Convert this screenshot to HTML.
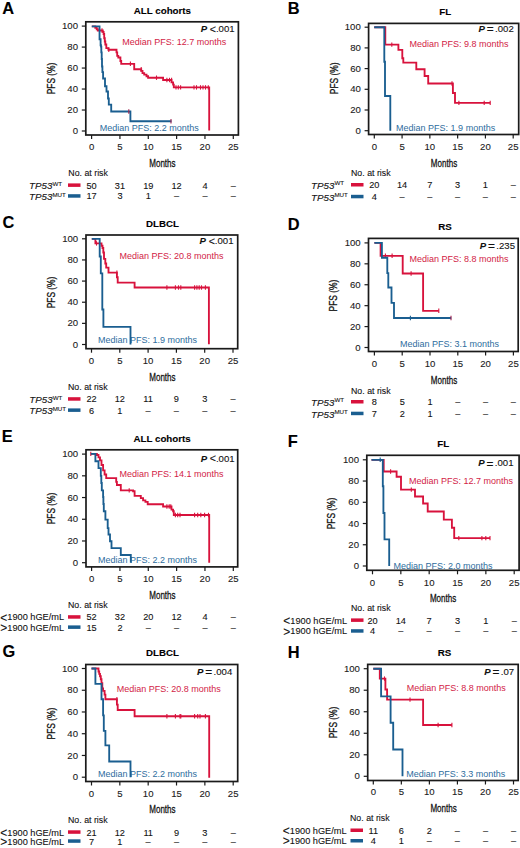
<!DOCTYPE html>
<html><head><meta charset="utf-8"><style>
html,body{margin:0;padding:0;background:#fff;}
svg{display:block;}
text{font-family:"Liberation Sans", sans-serif;}

</style></head><body>
<svg width="520" height="848" viewBox="0 0 520 848">
<rect x="0" y="0" width="520" height="848" fill="#fff"/>
<text x="2.30" y="14.40" font-size="16.4" text-anchor="start" font-weight="bold" font-style="normal" fill="#000" stroke="#000" stroke-width="0.1" >A</text>
<text x="162.40" y="13.80" font-size="9.75" text-anchor="middle" font-weight="bold" font-style="normal" fill="#000" stroke="#000" stroke-width="0.1" >ALL cohorts</text>
<rect x="85.80" y="21.80" width="152.60" height="113.20" fill="none" stroke="#1a1a1a" stroke-width="1.7"/>
<line x1="81.80" y1="131.00" x2="85.80" y2="131.00" stroke="#1a1a1a" stroke-width="1.2"/>
<text x="78.00" y="134.10" font-size="9.6" text-anchor="end" font-weight="normal" font-style="normal" fill="#1a1a1a" stroke="#1a1a1a" stroke-width="0.1" >0</text>
<line x1="81.80" y1="110.02" x2="85.80" y2="110.02" stroke="#1a1a1a" stroke-width="1.2"/>
<text x="78.00" y="113.12" font-size="9.6" text-anchor="end" font-weight="normal" font-style="normal" fill="#1a1a1a" stroke="#1a1a1a" stroke-width="0.1" >20</text>
<line x1="81.80" y1="89.04" x2="85.80" y2="89.04" stroke="#1a1a1a" stroke-width="1.2"/>
<text x="78.00" y="92.14" font-size="9.6" text-anchor="end" font-weight="normal" font-style="normal" fill="#1a1a1a" stroke="#1a1a1a" stroke-width="0.1" >40</text>
<line x1="81.80" y1="68.06" x2="85.80" y2="68.06" stroke="#1a1a1a" stroke-width="1.2"/>
<text x="78.00" y="71.16" font-size="9.6" text-anchor="end" font-weight="normal" font-style="normal" fill="#1a1a1a" stroke="#1a1a1a" stroke-width="0.1" >60</text>
<line x1="81.80" y1="47.08" x2="85.80" y2="47.08" stroke="#1a1a1a" stroke-width="1.2"/>
<text x="78.00" y="50.18" font-size="9.6" text-anchor="end" font-weight="normal" font-style="normal" fill="#1a1a1a" stroke="#1a1a1a" stroke-width="0.1" >80</text>
<line x1="81.80" y1="26.10" x2="85.80" y2="26.10" stroke="#1a1a1a" stroke-width="1.2"/>
<text x="78.00" y="29.20" font-size="9.6" text-anchor="end" font-weight="normal" font-style="normal" fill="#1a1a1a" stroke="#1a1a1a" stroke-width="0.1" >100</text>
<line x1="91.60" y1="135.00" x2="91.60" y2="139.00" stroke="#1a1a1a" stroke-width="1.2"/>
<text x="91.60" y="150.30" font-size="9.6" text-anchor="middle" font-weight="normal" font-style="normal" fill="#1a1a1a" stroke="#1a1a1a" stroke-width="0.1" >0</text>
<line x1="119.94" y1="135.00" x2="119.94" y2="139.00" stroke="#1a1a1a" stroke-width="1.2"/>
<text x="119.94" y="150.30" font-size="9.6" text-anchor="middle" font-weight="normal" font-style="normal" fill="#1a1a1a" stroke="#1a1a1a" stroke-width="0.1" >5</text>
<line x1="148.28" y1="135.00" x2="148.28" y2="139.00" stroke="#1a1a1a" stroke-width="1.2"/>
<text x="148.28" y="150.30" font-size="9.6" text-anchor="middle" font-weight="normal" font-style="normal" fill="#1a1a1a" stroke="#1a1a1a" stroke-width="0.1" >10</text>
<line x1="176.62" y1="135.00" x2="176.62" y2="139.00" stroke="#1a1a1a" stroke-width="1.2"/>
<text x="176.62" y="150.30" font-size="9.6" text-anchor="middle" font-weight="normal" font-style="normal" fill="#1a1a1a" stroke="#1a1a1a" stroke-width="0.1" >15</text>
<line x1="204.96" y1="135.00" x2="204.96" y2="139.00" stroke="#1a1a1a" stroke-width="1.2"/>
<text x="204.96" y="150.30" font-size="9.6" text-anchor="middle" font-weight="normal" font-style="normal" fill="#1a1a1a" stroke="#1a1a1a" stroke-width="0.1" >20</text>
<line x1="233.30" y1="135.00" x2="233.30" y2="139.00" stroke="#1a1a1a" stroke-width="1.2"/>
<text x="233.30" y="150.30" font-size="9.6" text-anchor="middle" font-weight="normal" font-style="normal" fill="#1a1a1a" stroke="#1a1a1a" stroke-width="0.1" >25</text>
<text transform="translate(54.70,78.50) rotate(-90) scale(0.73,1)" x="0" y="0" font-size="11.5" text-anchor="middle" fill="#111" stroke="#111" stroke-width="0.3">PFS (%)</text>
<text transform="translate(162.40,167.10) scale(0.70,1)" x="0" y="0" font-size="11.5" text-anchor="middle" fill="#111" stroke="#111" stroke-width="0.3">Months</text>
<text x="234.60" y="32.30" font-size="9.6" text-anchor="end" fill="#111" stroke="#111" stroke-width="0.1"><tspan font-weight="bold" font-style="italic">P</tspan> <tspan font-size="10.6" dy="0.3">&lt;</tspan><tspan dy="-0.3">.001</tspan></text>
<text x="122.30" y="44.80" font-size="9" text-anchor="start" font-weight="normal" font-style="normal" fill="#d21c46" stroke="#d21c46" stroke-width="0.1" style="stroke-width:0">Median PFS: 12.7 months</text>
<text x="99.80" y="131.00" font-size="9" text-anchor="start" font-weight="normal" font-style="normal" fill="#2e6d9e" stroke="#2e6d9e" stroke-width="0.1" style="stroke-width:0">Median PFS: 2.2 months</text>
<polyline points="91.80,26.30 95.30,26.30 95.30,27.80 96.70,27.80 96.70,29.20 97.80,29.20 97.80,30.50 102.80,30.50 102.80,31.80 103.60,31.80 103.60,34.00 104.20,34.00 104.20,38.20 104.80,38.20 104.80,41.50 105.30,41.50 105.30,44.50 106.30,44.50 106.30,48.10 108.40,48.10 108.40,49.70 116.50,49.70 116.50,52.30 117.20,52.30 117.20,55.80 118.30,55.80 118.30,57.50 120.40,57.50 120.40,61.00 121.20,61.00 121.20,63.80 134.20,63.80 134.20,69.20 141.20,69.20 141.20,70.80 142.50,70.80 142.50,73.10 144.20,73.10 144.20,74.60 146.50,74.60 146.50,76.20 148.10,76.20 148.10,77.70 163.10,77.70 163.10,80.00 171.50,80.00 171.50,82.30 173.10,82.30 173.10,84.60 173.80,84.60 173.80,87.40 209.20,87.40 209.20,130.50" fill="none" stroke="#d8123c" stroke-width="1.85" stroke-linejoin="miter" stroke-linecap="butt"/>
<line x1="102.00" y1="28.30" x2="102.00" y2="32.70" stroke="#d8123c" stroke-width="1.1"/>
<line x1="108.80" y1="47.50" x2="108.80" y2="51.90" stroke="#d8123c" stroke-width="1.1"/>
<line x1="130.40" y1="61.60" x2="130.40" y2="66.00" stroke="#d8123c" stroke-width="1.1"/>
<line x1="141.20" y1="67.00" x2="141.20" y2="71.40" stroke="#d8123c" stroke-width="1.1"/>
<line x1="156.50" y1="75.50" x2="156.50" y2="79.90" stroke="#d8123c" stroke-width="1.1"/>
<line x1="166.90" y1="77.80" x2="166.90" y2="82.20" stroke="#d8123c" stroke-width="1.1"/>
<line x1="169.50" y1="77.80" x2="169.50" y2="82.20" stroke="#d8123c" stroke-width="1.1"/>
<line x1="171.60" y1="77.80" x2="171.60" y2="82.20" stroke="#d8123c" stroke-width="1.1"/>
<line x1="176.00" y1="85.20" x2="176.00" y2="89.60" stroke="#d8123c" stroke-width="1.1"/>
<line x1="178.30" y1="85.20" x2="178.30" y2="89.60" stroke="#d8123c" stroke-width="1.1"/>
<line x1="180.60" y1="85.20" x2="180.60" y2="89.60" stroke="#d8123c" stroke-width="1.1"/>
<line x1="194.00" y1="85.20" x2="194.00" y2="89.60" stroke="#d8123c" stroke-width="1.1"/>
<line x1="196.50" y1="85.20" x2="196.50" y2="89.60" stroke="#d8123c" stroke-width="1.1"/>
<line x1="200.50" y1="85.20" x2="200.50" y2="89.60" stroke="#d8123c" stroke-width="1.1"/>
<line x1="203.00" y1="85.20" x2="203.00" y2="89.60" stroke="#d8123c" stroke-width="1.1"/>
<line x1="205.50" y1="85.20" x2="205.50" y2="89.60" stroke="#d8123c" stroke-width="1.1"/>
<line x1="208.30" y1="85.20" x2="208.30" y2="89.60" stroke="#d8123c" stroke-width="1.1"/>
<polyline points="91.80,26.30 99.55,26.30 99.55,39.20 100.60,39.20 100.60,45.20 101.00,45.20 101.00,46.60 101.30,46.60 101.30,52.30 101.70,52.30 101.70,59.00 102.00,59.00 102.00,66.50 102.40,66.50 102.40,72.10 103.10,72.10 103.10,78.50 105.00,78.50 105.00,86.20 106.50,86.20 106.50,91.50 108.00,91.50 108.00,98.50 108.80,98.50 108.80,104.60 111.20,104.60 111.20,111.50 130.40,111.50 130.40,121.20 171.50,121.20" fill="none" stroke="#1a5e90" stroke-width="1.85" stroke-linejoin="miter" stroke-linecap="butt"/>
<line x1="128.80" y1="109.30" x2="128.80" y2="113.70" stroke="#a02450" stroke-width="1.1"/>
<line x1="171.00" y1="119.00" x2="171.00" y2="123.40" stroke="#a02450" stroke-width="1.1"/>
<text x="68.30" y="175.50" font-size="8.8" text-anchor="start" font-weight="normal" font-style="normal" fill="#111" stroke="#111" stroke-width="0.1" >No. at risk</text>
<rect x="68.00" y="183.40" width="12.5" height="3.5" fill="#d8123c"/>
<rect x="68.00" y="194.20" width="12.5" height="3.5" fill="#1a5e90"/>
<text x="29.00" y="189.40" font-size="9.8" fill="#111" stroke="#111" stroke-width="0.1"><tspan font-style="italic">TP53</tspan><tspan font-size="6.2" dy="-3.7">WT</tspan></text>
<text x="29.00" y="200.20" font-size="9.8" fill="#111" stroke="#111" stroke-width="0.1"><tspan font-style="italic">TP53</tspan><tspan font-size="6.2" dy="-3.7">MUT</tspan></text>
<text x="91.60" y="188.60" font-size="9.2" text-anchor="middle" font-weight="normal" font-style="normal" fill="#111" stroke="#111" stroke-width="0.1" >50</text>
<text x="91.60" y="199.40" font-size="9.2" text-anchor="middle" font-weight="normal" font-style="normal" fill="#111" stroke="#111" stroke-width="0.1" >17</text>
<text x="119.94" y="188.60" font-size="9.2" text-anchor="middle" font-weight="normal" font-style="normal" fill="#111" stroke="#111" stroke-width="0.1" >31</text>
<text x="119.94" y="199.40" font-size="9.2" text-anchor="middle" font-weight="normal" font-style="normal" fill="#111" stroke="#111" stroke-width="0.1" >3</text>
<text x="148.28" y="188.60" font-size="9.2" text-anchor="middle" font-weight="normal" font-style="normal" fill="#111" stroke="#111" stroke-width="0.1" >19</text>
<text x="148.28" y="199.40" font-size="9.2" text-anchor="middle" font-weight="normal" font-style="normal" fill="#111" stroke="#111" stroke-width="0.1" >1</text>
<text x="176.62" y="188.60" font-size="9.2" text-anchor="middle" font-weight="normal" font-style="normal" fill="#111" stroke="#111" stroke-width="0.1" >12</text>
<text x="176.62" y="199.40" font-size="9.2" text-anchor="middle" font-weight="normal" font-style="normal" fill="#111" stroke="#111" stroke-width="0.1" >&#8211;</text>
<text x="204.96" y="188.60" font-size="9.2" text-anchor="middle" font-weight="normal" font-style="normal" fill="#111" stroke="#111" stroke-width="0.1" >4</text>
<text x="204.96" y="199.40" font-size="9.2" text-anchor="middle" font-weight="normal" font-style="normal" fill="#111" stroke="#111" stroke-width="0.1" >&#8211;</text>
<text x="233.30" y="188.60" font-size="9.2" text-anchor="middle" font-weight="normal" font-style="normal" fill="#111" stroke="#111" stroke-width="0.1" >&#8211;</text>
<text x="233.30" y="199.40" font-size="9.2" text-anchor="middle" font-weight="normal" font-style="normal" fill="#111" stroke="#111" stroke-width="0.1" >&#8211;</text>
<text x="287.70" y="14.40" font-size="16.4" text-anchor="start" font-weight="bold" font-style="normal" fill="#000" stroke="#000" stroke-width="0.1" >B</text>
<text x="445.20" y="15.40" font-size="9.75" text-anchor="middle" font-weight="bold" font-style="normal" fill="#000" stroke="#000" stroke-width="0.1" >FL</text>
<rect x="368.60" y="23.40" width="150.10" height="111.10" fill="none" stroke="#1a1a1a" stroke-width="1.7"/>
<line x1="364.60" y1="130.70" x2="368.60" y2="130.70" stroke="#1a1a1a" stroke-width="1.2"/>
<text x="360.80" y="133.80" font-size="9.6" text-anchor="end" font-weight="normal" font-style="normal" fill="#1a1a1a" stroke="#1a1a1a" stroke-width="0.1" >0</text>
<line x1="364.60" y1="110.00" x2="368.60" y2="110.00" stroke="#1a1a1a" stroke-width="1.2"/>
<text x="360.80" y="113.10" font-size="9.6" text-anchor="end" font-weight="normal" font-style="normal" fill="#1a1a1a" stroke="#1a1a1a" stroke-width="0.1" >20</text>
<line x1="364.60" y1="89.30" x2="368.60" y2="89.30" stroke="#1a1a1a" stroke-width="1.2"/>
<text x="360.80" y="92.40" font-size="9.6" text-anchor="end" font-weight="normal" font-style="normal" fill="#1a1a1a" stroke="#1a1a1a" stroke-width="0.1" >40</text>
<line x1="364.60" y1="68.60" x2="368.60" y2="68.60" stroke="#1a1a1a" stroke-width="1.2"/>
<text x="360.80" y="71.70" font-size="9.6" text-anchor="end" font-weight="normal" font-style="normal" fill="#1a1a1a" stroke="#1a1a1a" stroke-width="0.1" >60</text>
<line x1="364.60" y1="47.90" x2="368.60" y2="47.90" stroke="#1a1a1a" stroke-width="1.2"/>
<text x="360.80" y="51.00" font-size="9.6" text-anchor="end" font-weight="normal" font-style="normal" fill="#1a1a1a" stroke="#1a1a1a" stroke-width="0.1" >80</text>
<line x1="364.60" y1="27.20" x2="368.60" y2="27.20" stroke="#1a1a1a" stroke-width="1.2"/>
<text x="360.80" y="30.30" font-size="9.6" text-anchor="end" font-weight="normal" font-style="normal" fill="#1a1a1a" stroke="#1a1a1a" stroke-width="0.1" >100</text>
<line x1="374.30" y1="134.50" x2="374.30" y2="138.50" stroke="#1a1a1a" stroke-width="1.2"/>
<text x="374.30" y="149.80" font-size="9.6" text-anchor="middle" font-weight="normal" font-style="normal" fill="#1a1a1a" stroke="#1a1a1a" stroke-width="0.1" >0</text>
<line x1="402.08" y1="134.50" x2="402.08" y2="138.50" stroke="#1a1a1a" stroke-width="1.2"/>
<text x="402.08" y="149.80" font-size="9.6" text-anchor="middle" font-weight="normal" font-style="normal" fill="#1a1a1a" stroke="#1a1a1a" stroke-width="0.1" >5</text>
<line x1="429.86" y1="134.50" x2="429.86" y2="138.50" stroke="#1a1a1a" stroke-width="1.2"/>
<text x="429.86" y="149.80" font-size="9.6" text-anchor="middle" font-weight="normal" font-style="normal" fill="#1a1a1a" stroke="#1a1a1a" stroke-width="0.1" >10</text>
<line x1="457.64" y1="134.50" x2="457.64" y2="138.50" stroke="#1a1a1a" stroke-width="1.2"/>
<text x="457.64" y="149.80" font-size="9.6" text-anchor="middle" font-weight="normal" font-style="normal" fill="#1a1a1a" stroke="#1a1a1a" stroke-width="0.1" >15</text>
<line x1="485.42" y1="134.50" x2="485.42" y2="138.50" stroke="#1a1a1a" stroke-width="1.2"/>
<text x="485.42" y="149.80" font-size="9.6" text-anchor="middle" font-weight="normal" font-style="normal" fill="#1a1a1a" stroke="#1a1a1a" stroke-width="0.1" >20</text>
<line x1="513.20" y1="134.50" x2="513.20" y2="138.50" stroke="#1a1a1a" stroke-width="1.2"/>
<text x="513.20" y="149.80" font-size="9.6" text-anchor="middle" font-weight="normal" font-style="normal" fill="#1a1a1a" stroke="#1a1a1a" stroke-width="0.1" >25</text>
<text transform="translate(337.70,78.30) rotate(-90) scale(0.73,1)" x="0" y="0" font-size="11.5" text-anchor="middle" fill="#111" stroke="#111" stroke-width="0.3">PFS (%)</text>
<text transform="translate(444.00,167.30) scale(0.70,1)" x="0" y="0" font-size="11.5" text-anchor="middle" fill="#111" stroke="#111" stroke-width="0.3">Months</text>
<text x="513.80" y="31.60" font-size="9.6" text-anchor="end" fill="#111" stroke="#111" stroke-width="0.1"><tspan font-weight="bold" font-style="italic">P</tspan> <tspan font-size="11.8" dy="1.1" dx="-0.8">=</tspan><tspan dy="-1.1" dx="1.5">.002</tspan></text>
<text x="409.50" y="47.40" font-size="9" text-anchor="start" font-weight="normal" font-style="normal" fill="#d21c46" stroke="#d21c46" stroke-width="0.1" style="stroke-width:0">Median PFS: 9.8 months</text>
<text x="396.10" y="130.90" font-size="9" text-anchor="start" font-weight="normal" font-style="normal" fill="#2e6d9e" stroke="#2e6d9e" stroke-width="0.1" style="stroke-width:0">Median PFS: 1.9 months</text>
<polyline points="374.20,27.20 385.30,27.20 385.30,44.60 398.40,44.60 398.40,49.80 402.30,49.80 402.30,58.20 403.30,58.20 403.30,62.60 416.30,62.60 416.30,69.20 424.60,69.20 424.60,76.00 428.20,76.00 428.20,83.50 452.90,83.50 452.90,93.00 455.00,93.00 455.00,102.90 490.20,102.90" fill="none" stroke="#d8123c" stroke-width="1.85" stroke-linejoin="miter" stroke-linecap="butt"/>
<line x1="391.80" y1="42.40" x2="391.80" y2="46.80" stroke="#d8123c" stroke-width="1.1"/>
<line x1="452.00" y1="81.30" x2="452.00" y2="85.70" stroke="#d8123c" stroke-width="1.1"/>
<line x1="458.90" y1="100.70" x2="458.90" y2="105.10" stroke="#d8123c" stroke-width="1.1"/>
<line x1="484.20" y1="100.70" x2="484.20" y2="105.10" stroke="#d8123c" stroke-width="1.1"/>
<line x1="490.20" y1="100.70" x2="490.20" y2="105.10" stroke="#d8123c" stroke-width="1.1"/>
<polyline points="374.20,27.20 384.30,27.20 384.30,61.70 385.00,61.70 385.00,96.00 390.30,96.00 390.30,130.70" fill="none" stroke="#1a5e90" stroke-width="1.85" stroke-linejoin="miter" stroke-linecap="butt"/>
<text x="351.00" y="176.00" font-size="8.8" text-anchor="start" font-weight="normal" font-style="normal" fill="#111" stroke="#111" stroke-width="0.1" >No. at risk</text>
<rect x="351.00" y="183.00" width="12.5" height="3.5" fill="#d8123c"/>
<rect x="351.00" y="194.80" width="12.5" height="3.5" fill="#1a5e90"/>
<text x="311.00" y="189.00" font-size="9.8" fill="#111" stroke="#111" stroke-width="0.1"><tspan font-style="italic">TP53</tspan><tspan font-size="6.2" dy="-3.7">WT</tspan></text>
<text x="311.00" y="200.80" font-size="9.8" fill="#111" stroke="#111" stroke-width="0.1"><tspan font-style="italic">TP53</tspan><tspan font-size="6.2" dy="-3.7">MUT</tspan></text>
<text x="374.30" y="188.20" font-size="9.2" text-anchor="middle" font-weight="normal" font-style="normal" fill="#111" stroke="#111" stroke-width="0.1" >20</text>
<text x="374.30" y="200.00" font-size="9.2" text-anchor="middle" font-weight="normal" font-style="normal" fill="#111" stroke="#111" stroke-width="0.1" >4</text>
<text x="402.08" y="188.20" font-size="9.2" text-anchor="middle" font-weight="normal" font-style="normal" fill="#111" stroke="#111" stroke-width="0.1" >14</text>
<text x="402.08" y="200.00" font-size="9.2" text-anchor="middle" font-weight="normal" font-style="normal" fill="#111" stroke="#111" stroke-width="0.1" >&#8211;</text>
<text x="429.86" y="188.20" font-size="9.2" text-anchor="middle" font-weight="normal" font-style="normal" fill="#111" stroke="#111" stroke-width="0.1" >7</text>
<text x="429.86" y="200.00" font-size="9.2" text-anchor="middle" font-weight="normal" font-style="normal" fill="#111" stroke="#111" stroke-width="0.1" >&#8211;</text>
<text x="457.64" y="188.20" font-size="9.2" text-anchor="middle" font-weight="normal" font-style="normal" fill="#111" stroke="#111" stroke-width="0.1" >3</text>
<text x="457.64" y="200.00" font-size="9.2" text-anchor="middle" font-weight="normal" font-style="normal" fill="#111" stroke="#111" stroke-width="0.1" >&#8211;</text>
<text x="485.42" y="188.20" font-size="9.2" text-anchor="middle" font-weight="normal" font-style="normal" fill="#111" stroke="#111" stroke-width="0.1" >1</text>
<text x="485.42" y="200.00" font-size="9.2" text-anchor="middle" font-weight="normal" font-style="normal" fill="#111" stroke="#111" stroke-width="0.1" >&#8211;</text>
<text x="513.20" y="188.20" font-size="9.2" text-anchor="middle" font-weight="normal" font-style="normal" fill="#111" stroke="#111" stroke-width="0.1" >&#8211;</text>
<text x="513.20" y="200.00" font-size="9.2" text-anchor="middle" font-weight="normal" font-style="normal" fill="#111" stroke="#111" stroke-width="0.1" >&#8211;</text>
<text x="2.60" y="228.30" font-size="16.4" text-anchor="start" font-weight="bold" font-style="normal" fill="#000" stroke="#000" stroke-width="0.1" >C</text>
<text x="162.50" y="227.00" font-size="9.75" text-anchor="middle" font-weight="bold" font-style="normal" fill="#000" stroke="#000" stroke-width="0.1" >DLBCL</text>
<rect x="86.00" y="235.00" width="151.70" height="113.70" fill="none" stroke="#1a1a1a" stroke-width="1.7"/>
<line x1="82.00" y1="344.50" x2="86.00" y2="344.50" stroke="#1a1a1a" stroke-width="1.2"/>
<text x="78.20" y="347.60" font-size="9.6" text-anchor="end" font-weight="normal" font-style="normal" fill="#1a1a1a" stroke="#1a1a1a" stroke-width="0.1" >0</text>
<line x1="82.00" y1="323.36" x2="86.00" y2="323.36" stroke="#1a1a1a" stroke-width="1.2"/>
<text x="78.20" y="326.46" font-size="9.6" text-anchor="end" font-weight="normal" font-style="normal" fill="#1a1a1a" stroke="#1a1a1a" stroke-width="0.1" >20</text>
<line x1="82.00" y1="302.22" x2="86.00" y2="302.22" stroke="#1a1a1a" stroke-width="1.2"/>
<text x="78.20" y="305.32" font-size="9.6" text-anchor="end" font-weight="normal" font-style="normal" fill="#1a1a1a" stroke="#1a1a1a" stroke-width="0.1" >40</text>
<line x1="82.00" y1="281.08" x2="86.00" y2="281.08" stroke="#1a1a1a" stroke-width="1.2"/>
<text x="78.20" y="284.18" font-size="9.6" text-anchor="end" font-weight="normal" font-style="normal" fill="#1a1a1a" stroke="#1a1a1a" stroke-width="0.1" >60</text>
<line x1="82.00" y1="259.94" x2="86.00" y2="259.94" stroke="#1a1a1a" stroke-width="1.2"/>
<text x="78.20" y="263.04" font-size="9.6" text-anchor="end" font-weight="normal" font-style="normal" fill="#1a1a1a" stroke="#1a1a1a" stroke-width="0.1" >80</text>
<line x1="82.00" y1="238.80" x2="86.00" y2="238.80" stroke="#1a1a1a" stroke-width="1.2"/>
<text x="78.20" y="241.90" font-size="9.6" text-anchor="end" font-weight="normal" font-style="normal" fill="#1a1a1a" stroke="#1a1a1a" stroke-width="0.1" >100</text>
<line x1="91.50" y1="348.70" x2="91.50" y2="352.70" stroke="#1a1a1a" stroke-width="1.2"/>
<text x="91.50" y="364.00" font-size="9.6" text-anchor="middle" font-weight="normal" font-style="normal" fill="#1a1a1a" stroke="#1a1a1a" stroke-width="0.1" >0</text>
<line x1="119.80" y1="348.70" x2="119.80" y2="352.70" stroke="#1a1a1a" stroke-width="1.2"/>
<text x="119.80" y="364.00" font-size="9.6" text-anchor="middle" font-weight="normal" font-style="normal" fill="#1a1a1a" stroke="#1a1a1a" stroke-width="0.1" >5</text>
<line x1="148.10" y1="348.70" x2="148.10" y2="352.70" stroke="#1a1a1a" stroke-width="1.2"/>
<text x="148.10" y="364.00" font-size="9.6" text-anchor="middle" font-weight="normal" font-style="normal" fill="#1a1a1a" stroke="#1a1a1a" stroke-width="0.1" >10</text>
<line x1="176.40" y1="348.70" x2="176.40" y2="352.70" stroke="#1a1a1a" stroke-width="1.2"/>
<text x="176.40" y="364.00" font-size="9.6" text-anchor="middle" font-weight="normal" font-style="normal" fill="#1a1a1a" stroke="#1a1a1a" stroke-width="0.1" >15</text>
<line x1="204.70" y1="348.70" x2="204.70" y2="352.70" stroke="#1a1a1a" stroke-width="1.2"/>
<text x="204.70" y="364.00" font-size="9.6" text-anchor="middle" font-weight="normal" font-style="normal" fill="#1a1a1a" stroke="#1a1a1a" stroke-width="0.1" >20</text>
<line x1="233.00" y1="348.70" x2="233.00" y2="352.70" stroke="#1a1a1a" stroke-width="1.2"/>
<text x="233.00" y="364.00" font-size="9.6" text-anchor="middle" font-weight="normal" font-style="normal" fill="#1a1a1a" stroke="#1a1a1a" stroke-width="0.1" >25</text>
<text transform="translate(54.70,292.50) rotate(-90) scale(0.73,1)" x="0" y="0" font-size="11.5" text-anchor="middle" fill="#111" stroke="#111" stroke-width="0.3">PFS (%)</text>
<text transform="translate(162.40,380.80) scale(0.70,1)" x="0" y="0" font-size="11.5" text-anchor="middle" fill="#111" stroke="#111" stroke-width="0.3">Months</text>
<text x="233.50" y="244.40" font-size="9.6" text-anchor="end" fill="#111" stroke="#111" stroke-width="0.1"><tspan font-weight="bold" font-style="italic">P</tspan> <tspan font-size="10.6" dy="0.3">&lt;</tspan><tspan dy="-0.3">.001</tspan></text>
<text x="119.50" y="258.60" font-size="9" text-anchor="start" font-weight="normal" font-style="normal" fill="#d21c46" stroke="#d21c46" stroke-width="0.1" style="stroke-width:0">Median PFS: 20.8 months</text>
<text x="98.00" y="343.40" font-size="9" text-anchor="start" font-weight="normal" font-style="normal" fill="#2e6d9e" stroke="#2e6d9e" stroke-width="0.1" style="stroke-width:0">Median PFS: 1.9 months</text>
<polyline points="91.80,238.80 95.40,238.80 95.40,243.40 101.50,243.40 101.50,245.70 102.50,245.70 102.50,248.00 103.30,248.00 103.30,252.50 104.00,252.50 104.00,258.80 105.30,258.80 105.30,263.50 106.20,263.50 106.20,267.60 108.50,267.60 108.50,272.60 116.90,272.60 116.90,277.20 117.70,277.20 117.70,282.60 134.60,282.60 134.60,287.50 208.90,287.50 208.90,344.20" fill="none" stroke="#d8123c" stroke-width="1.85" stroke-linejoin="miter" stroke-linecap="butt"/>
<line x1="96.50" y1="241.20" x2="96.50" y2="245.60" stroke="#d8123c" stroke-width="1.1"/>
<line x1="116.90" y1="270.40" x2="116.90" y2="274.80" stroke="#d8123c" stroke-width="1.1"/>
<line x1="166.90" y1="285.30" x2="166.90" y2="289.70" stroke="#d8123c" stroke-width="1.1"/>
<line x1="175.40" y1="285.30" x2="175.40" y2="289.70" stroke="#d8123c" stroke-width="1.1"/>
<line x1="178.50" y1="285.30" x2="178.50" y2="289.70" stroke="#d8123c" stroke-width="1.1"/>
<line x1="180.80" y1="285.30" x2="180.80" y2="289.70" stroke="#d8123c" stroke-width="1.1"/>
<line x1="194.60" y1="285.30" x2="194.60" y2="289.70" stroke="#d8123c" stroke-width="1.1"/>
<line x1="196.90" y1="285.30" x2="196.90" y2="289.70" stroke="#d8123c" stroke-width="1.1"/>
<line x1="199.20" y1="285.30" x2="199.20" y2="289.70" stroke="#d8123c" stroke-width="1.1"/>
<line x1="201.50" y1="285.30" x2="201.50" y2="289.70" stroke="#d8123c" stroke-width="1.1"/>
<line x1="205.40" y1="285.30" x2="205.40" y2="289.70" stroke="#d8123c" stroke-width="1.1"/>
<polyline points="91.80,238.80 99.70,238.80 99.70,256.50 100.80,256.50 100.80,273.40 102.30,273.40 102.30,309.50 103.40,309.50 103.40,326.90 130.50,326.90 130.50,344.50" fill="none" stroke="#1a5e90" stroke-width="1.85" stroke-linejoin="miter" stroke-linecap="butt"/>
<text x="68.00" y="390.00" font-size="8.8" text-anchor="start" font-weight="normal" font-style="normal" fill="#111" stroke="#111" stroke-width="0.1" >No. at risk</text>
<rect x="68.00" y="397.20" width="12.5" height="3.5" fill="#d8123c"/>
<rect x="68.00" y="408.40" width="12.5" height="3.5" fill="#1a5e90"/>
<text x="29.30" y="403.20" font-size="9.8" fill="#111" stroke="#111" stroke-width="0.1"><tspan font-style="italic">TP53</tspan><tspan font-size="6.2" dy="-3.7">WT</tspan></text>
<text x="29.30" y="414.40" font-size="9.8" fill="#111" stroke="#111" stroke-width="0.1"><tspan font-style="italic">TP53</tspan><tspan font-size="6.2" dy="-3.7">MUT</tspan></text>
<text x="91.50" y="402.40" font-size="9.2" text-anchor="middle" font-weight="normal" font-style="normal" fill="#111" stroke="#111" stroke-width="0.1" >22</text>
<text x="91.50" y="413.60" font-size="9.2" text-anchor="middle" font-weight="normal" font-style="normal" fill="#111" stroke="#111" stroke-width="0.1" >6</text>
<text x="119.80" y="402.40" font-size="9.2" text-anchor="middle" font-weight="normal" font-style="normal" fill="#111" stroke="#111" stroke-width="0.1" >12</text>
<text x="119.80" y="413.60" font-size="9.2" text-anchor="middle" font-weight="normal" font-style="normal" fill="#111" stroke="#111" stroke-width="0.1" >1</text>
<text x="148.10" y="402.40" font-size="9.2" text-anchor="middle" font-weight="normal" font-style="normal" fill="#111" stroke="#111" stroke-width="0.1" >11</text>
<text x="148.10" y="413.60" font-size="9.2" text-anchor="middle" font-weight="normal" font-style="normal" fill="#111" stroke="#111" stroke-width="0.1" >&#8211;</text>
<text x="176.40" y="402.40" font-size="9.2" text-anchor="middle" font-weight="normal" font-style="normal" fill="#111" stroke="#111" stroke-width="0.1" >9</text>
<text x="176.40" y="413.60" font-size="9.2" text-anchor="middle" font-weight="normal" font-style="normal" fill="#111" stroke="#111" stroke-width="0.1" >&#8211;</text>
<text x="204.70" y="402.40" font-size="9.2" text-anchor="middle" font-weight="normal" font-style="normal" fill="#111" stroke="#111" stroke-width="0.1" >3</text>
<text x="204.70" y="413.60" font-size="9.2" text-anchor="middle" font-weight="normal" font-style="normal" fill="#111" stroke="#111" stroke-width="0.1" >&#8211;</text>
<text x="233.00" y="402.40" font-size="9.2" text-anchor="middle" font-weight="normal" font-style="normal" fill="#111" stroke="#111" stroke-width="0.1" >&#8211;</text>
<text x="233.00" y="413.60" font-size="9.2" text-anchor="middle" font-weight="normal" font-style="normal" fill="#111" stroke="#111" stroke-width="0.1" >&#8211;</text>
<text x="287.70" y="230.00" font-size="16.4" text-anchor="start" font-weight="bold" font-style="normal" fill="#000" stroke="#000" stroke-width="0.1" >D</text>
<text x="445.00" y="230.30" font-size="9.75" text-anchor="middle" font-weight="bold" font-style="normal" fill="#000" stroke="#000" stroke-width="0.1" >RS</text>
<rect x="368.50" y="238.40" width="149.70" height="113.10" fill="none" stroke="#1a1a1a" stroke-width="1.7"/>
<line x1="364.50" y1="347.50" x2="368.50" y2="347.50" stroke="#1a1a1a" stroke-width="1.2"/>
<text x="360.70" y="350.60" font-size="9.6" text-anchor="end" font-weight="normal" font-style="normal" fill="#1a1a1a" stroke="#1a1a1a" stroke-width="0.1" >0</text>
<line x1="364.50" y1="326.58" x2="368.50" y2="326.58" stroke="#1a1a1a" stroke-width="1.2"/>
<text x="360.70" y="329.68" font-size="9.6" text-anchor="end" font-weight="normal" font-style="normal" fill="#1a1a1a" stroke="#1a1a1a" stroke-width="0.1" >20</text>
<line x1="364.50" y1="305.66" x2="368.50" y2="305.66" stroke="#1a1a1a" stroke-width="1.2"/>
<text x="360.70" y="308.76" font-size="9.6" text-anchor="end" font-weight="normal" font-style="normal" fill="#1a1a1a" stroke="#1a1a1a" stroke-width="0.1" >40</text>
<line x1="364.50" y1="284.74" x2="368.50" y2="284.74" stroke="#1a1a1a" stroke-width="1.2"/>
<text x="360.70" y="287.84" font-size="9.6" text-anchor="end" font-weight="normal" font-style="normal" fill="#1a1a1a" stroke="#1a1a1a" stroke-width="0.1" >60</text>
<line x1="364.50" y1="263.82" x2="368.50" y2="263.82" stroke="#1a1a1a" stroke-width="1.2"/>
<text x="360.70" y="266.92" font-size="9.6" text-anchor="end" font-weight="normal" font-style="normal" fill="#1a1a1a" stroke="#1a1a1a" stroke-width="0.1" >80</text>
<line x1="364.50" y1="242.90" x2="368.50" y2="242.90" stroke="#1a1a1a" stroke-width="1.2"/>
<text x="360.70" y="246.00" font-size="9.6" text-anchor="end" font-weight="normal" font-style="normal" fill="#1a1a1a" stroke="#1a1a1a" stroke-width="0.1" >100</text>
<line x1="374.40" y1="351.50" x2="374.40" y2="355.50" stroke="#1a1a1a" stroke-width="1.2"/>
<text x="374.40" y="366.80" font-size="9.6" text-anchor="middle" font-weight="normal" font-style="normal" fill="#1a1a1a" stroke="#1a1a1a" stroke-width="0.1" >0</text>
<line x1="402.20" y1="351.50" x2="402.20" y2="355.50" stroke="#1a1a1a" stroke-width="1.2"/>
<text x="402.20" y="366.80" font-size="9.6" text-anchor="middle" font-weight="normal" font-style="normal" fill="#1a1a1a" stroke="#1a1a1a" stroke-width="0.1" >5</text>
<line x1="430.00" y1="351.50" x2="430.00" y2="355.50" stroke="#1a1a1a" stroke-width="1.2"/>
<text x="430.00" y="366.80" font-size="9.6" text-anchor="middle" font-weight="normal" font-style="normal" fill="#1a1a1a" stroke="#1a1a1a" stroke-width="0.1" >10</text>
<line x1="457.80" y1="351.50" x2="457.80" y2="355.50" stroke="#1a1a1a" stroke-width="1.2"/>
<text x="457.80" y="366.80" font-size="9.6" text-anchor="middle" font-weight="normal" font-style="normal" fill="#1a1a1a" stroke="#1a1a1a" stroke-width="0.1" >15</text>
<line x1="485.60" y1="351.50" x2="485.60" y2="355.50" stroke="#1a1a1a" stroke-width="1.2"/>
<text x="485.60" y="366.80" font-size="9.6" text-anchor="middle" font-weight="normal" font-style="normal" fill="#1a1a1a" stroke="#1a1a1a" stroke-width="0.1" >20</text>
<line x1="513.40" y1="351.50" x2="513.40" y2="355.50" stroke="#1a1a1a" stroke-width="1.2"/>
<text x="513.40" y="366.80" font-size="9.6" text-anchor="middle" font-weight="normal" font-style="normal" fill="#1a1a1a" stroke="#1a1a1a" stroke-width="0.1" >25</text>
<text transform="translate(337.20,295.60) rotate(-90) scale(0.73,1)" x="0" y="0" font-size="11.5" text-anchor="middle" fill="#111" stroke="#111" stroke-width="0.3">PFS (%)</text>
<text transform="translate(444.00,383.70) scale(0.70,1)" x="0" y="0" font-size="11.5" text-anchor="middle" fill="#111" stroke="#111" stroke-width="0.3">Months</text>
<text x="515.00" y="248.60" font-size="9.6" text-anchor="end" fill="#111" stroke="#111" stroke-width="0.1"><tspan font-weight="bold" font-style="italic">P</tspan> <tspan font-size="11.8" dy="1.1" dx="-0.8">=</tspan><tspan dy="-1.1" dx="1.5">.235</tspan></text>
<text x="409.50" y="261.90" font-size="9" text-anchor="start" font-weight="normal" font-style="normal" fill="#d21c46" stroke="#d21c46" stroke-width="0.1" style="stroke-width:0">Median PFS: 8.8 months</text>
<text x="400.00" y="346.60" font-size="9" text-anchor="start" font-weight="normal" font-style="normal" fill="#2e6d9e" stroke="#2e6d9e" stroke-width="0.1" style="stroke-width:0">Median PFS: 3.1 months</text>
<polyline points="374.40,242.90 380.60,242.90 380.60,255.80 402.70,255.80 402.70,273.50 423.10,273.50 423.10,310.80 438.80,310.80" fill="none" stroke="#d8123c" stroke-width="1.85" stroke-linejoin="miter" stroke-linecap="butt"/>
<line x1="385.40" y1="253.60" x2="385.40" y2="258.00" stroke="#d8123c" stroke-width="1.1"/>
<line x1="392.10" y1="253.60" x2="392.10" y2="258.00" stroke="#d8123c" stroke-width="1.1"/>
<line x1="411.10" y1="271.30" x2="411.10" y2="275.70" stroke="#d8123c" stroke-width="1.1"/>
<line x1="438.80" y1="308.60" x2="438.80" y2="313.00" stroke="#d8123c" stroke-width="1.1"/>
<polyline points="374.40,242.90 381.90,242.90 381.90,257.70 387.30,257.70 387.30,273.10 388.30,273.10 388.30,287.50 391.50,287.50 391.50,302.90 394.00,302.90 394.00,318.00 451.20,318.00" fill="none" stroke="#1a5e90" stroke-width="1.85" stroke-linejoin="miter" stroke-linecap="butt"/>
<line x1="410.40" y1="315.80" x2="410.40" y2="320.20" stroke="#1a5e90" stroke-width="1.1"/>
<line x1="451.00" y1="315.80" x2="451.00" y2="320.20" stroke="#a02450" stroke-width="1.1"/>
<text x="351.00" y="394.00" font-size="8.8" text-anchor="start" font-weight="normal" font-style="normal" fill="#111" stroke="#111" stroke-width="0.1" >No. at risk</text>
<rect x="351.00" y="400.00" width="12.5" height="3.5" fill="#d8123c"/>
<rect x="351.00" y="411.70" width="12.5" height="3.5" fill="#1a5e90"/>
<text x="311.00" y="406.00" font-size="9.8" fill="#111" stroke="#111" stroke-width="0.1"><tspan font-style="italic">TP53</tspan><tspan font-size="6.2" dy="-3.7">WT</tspan></text>
<text x="311.00" y="417.70" font-size="9.8" fill="#111" stroke="#111" stroke-width="0.1"><tspan font-style="italic">TP53</tspan><tspan font-size="6.2" dy="-3.7">MUT</tspan></text>
<text x="374.40" y="405.20" font-size="9.2" text-anchor="middle" font-weight="normal" font-style="normal" fill="#111" stroke="#111" stroke-width="0.1" >8</text>
<text x="374.40" y="416.90" font-size="9.2" text-anchor="middle" font-weight="normal" font-style="normal" fill="#111" stroke="#111" stroke-width="0.1" >7</text>
<text x="402.20" y="405.20" font-size="9.2" text-anchor="middle" font-weight="normal" font-style="normal" fill="#111" stroke="#111" stroke-width="0.1" >5</text>
<text x="402.20" y="416.90" font-size="9.2" text-anchor="middle" font-weight="normal" font-style="normal" fill="#111" stroke="#111" stroke-width="0.1" >2</text>
<text x="430.00" y="405.20" font-size="9.2" text-anchor="middle" font-weight="normal" font-style="normal" fill="#111" stroke="#111" stroke-width="0.1" >1</text>
<text x="430.00" y="416.90" font-size="9.2" text-anchor="middle" font-weight="normal" font-style="normal" fill="#111" stroke="#111" stroke-width="0.1" >1</text>
<text x="457.80" y="405.20" font-size="9.2" text-anchor="middle" font-weight="normal" font-style="normal" fill="#111" stroke="#111" stroke-width="0.1" >&#8211;</text>
<text x="457.80" y="416.90" font-size="9.2" text-anchor="middle" font-weight="normal" font-style="normal" fill="#111" stroke="#111" stroke-width="0.1" >&#8211;</text>
<text x="485.60" y="405.20" font-size="9.2" text-anchor="middle" font-weight="normal" font-style="normal" fill="#111" stroke="#111" stroke-width="0.1" >&#8211;</text>
<text x="485.60" y="416.90" font-size="9.2" text-anchor="middle" font-weight="normal" font-style="normal" fill="#111" stroke="#111" stroke-width="0.1" >&#8211;</text>
<text x="513.40" y="405.20" font-size="9.2" text-anchor="middle" font-weight="normal" font-style="normal" fill="#111" stroke="#111" stroke-width="0.1" >&#8211;</text>
<text x="513.40" y="416.90" font-size="9.2" text-anchor="middle" font-weight="normal" font-style="normal" fill="#111" stroke="#111" stroke-width="0.1" >&#8211;</text>
<text x="1.80" y="441.80" font-size="16.4" text-anchor="start" font-weight="bold" font-style="normal" fill="#000" stroke="#000" stroke-width="0.1" >E</text>
<text x="162.10" y="442.00" font-size="9.75" text-anchor="middle" font-weight="bold" font-style="normal" fill="#000" stroke="#000" stroke-width="0.1" >ALL cohorts</text>
<rect x="86.00" y="449.80" width="151.70" height="117.10" fill="none" stroke="#1a1a1a" stroke-width="1.7"/>
<line x1="82.00" y1="562.70" x2="86.00" y2="562.70" stroke="#1a1a1a" stroke-width="1.2"/>
<text x="78.20" y="565.80" font-size="9.6" text-anchor="end" font-weight="normal" font-style="normal" fill="#1a1a1a" stroke="#1a1a1a" stroke-width="0.1" >0</text>
<line x1="82.00" y1="540.98" x2="86.00" y2="540.98" stroke="#1a1a1a" stroke-width="1.2"/>
<text x="78.20" y="544.08" font-size="9.6" text-anchor="end" font-weight="normal" font-style="normal" fill="#1a1a1a" stroke="#1a1a1a" stroke-width="0.1" >20</text>
<line x1="82.00" y1="519.26" x2="86.00" y2="519.26" stroke="#1a1a1a" stroke-width="1.2"/>
<text x="78.20" y="522.36" font-size="9.6" text-anchor="end" font-weight="normal" font-style="normal" fill="#1a1a1a" stroke="#1a1a1a" stroke-width="0.1" >40</text>
<line x1="82.00" y1="497.54" x2="86.00" y2="497.54" stroke="#1a1a1a" stroke-width="1.2"/>
<text x="78.20" y="500.64" font-size="9.6" text-anchor="end" font-weight="normal" font-style="normal" fill="#1a1a1a" stroke="#1a1a1a" stroke-width="0.1" >60</text>
<line x1="82.00" y1="475.82" x2="86.00" y2="475.82" stroke="#1a1a1a" stroke-width="1.2"/>
<text x="78.20" y="478.92" font-size="9.6" text-anchor="end" font-weight="normal" font-style="normal" fill="#1a1a1a" stroke="#1a1a1a" stroke-width="0.1" >80</text>
<line x1="82.00" y1="454.10" x2="86.00" y2="454.10" stroke="#1a1a1a" stroke-width="1.2"/>
<text x="78.20" y="457.20" font-size="9.6" text-anchor="end" font-weight="normal" font-style="normal" fill="#1a1a1a" stroke="#1a1a1a" stroke-width="0.1" >100</text>
<line x1="91.60" y1="566.90" x2="91.60" y2="570.90" stroke="#1a1a1a" stroke-width="1.2"/>
<text x="91.60" y="582.20" font-size="9.6" text-anchor="middle" font-weight="normal" font-style="normal" fill="#1a1a1a" stroke="#1a1a1a" stroke-width="0.1" >0</text>
<line x1="119.94" y1="566.90" x2="119.94" y2="570.90" stroke="#1a1a1a" stroke-width="1.2"/>
<text x="119.94" y="582.20" font-size="9.6" text-anchor="middle" font-weight="normal" font-style="normal" fill="#1a1a1a" stroke="#1a1a1a" stroke-width="0.1" >5</text>
<line x1="148.28" y1="566.90" x2="148.28" y2="570.90" stroke="#1a1a1a" stroke-width="1.2"/>
<text x="148.28" y="582.20" font-size="9.6" text-anchor="middle" font-weight="normal" font-style="normal" fill="#1a1a1a" stroke="#1a1a1a" stroke-width="0.1" >10</text>
<line x1="176.62" y1="566.90" x2="176.62" y2="570.90" stroke="#1a1a1a" stroke-width="1.2"/>
<text x="176.62" y="582.20" font-size="9.6" text-anchor="middle" font-weight="normal" font-style="normal" fill="#1a1a1a" stroke="#1a1a1a" stroke-width="0.1" >15</text>
<line x1="204.96" y1="566.90" x2="204.96" y2="570.90" stroke="#1a1a1a" stroke-width="1.2"/>
<text x="204.96" y="582.20" font-size="9.6" text-anchor="middle" font-weight="normal" font-style="normal" fill="#1a1a1a" stroke="#1a1a1a" stroke-width="0.1" >20</text>
<line x1="233.30" y1="566.90" x2="233.30" y2="570.90" stroke="#1a1a1a" stroke-width="1.2"/>
<text x="233.30" y="582.20" font-size="9.6" text-anchor="middle" font-weight="normal" font-style="normal" fill="#1a1a1a" stroke="#1a1a1a" stroke-width="0.1" >25</text>
<text transform="translate(54.70,508.50) rotate(-90) scale(0.73,1)" x="0" y="0" font-size="11.5" text-anchor="middle" fill="#111" stroke="#111" stroke-width="0.3">PFS (%)</text>
<text transform="translate(162.40,598.90) scale(0.70,1)" x="0" y="0" font-size="11.5" text-anchor="middle" fill="#111" stroke="#111" stroke-width="0.3">Months</text>
<text x="234.60" y="462.00" font-size="9.6" text-anchor="end" fill="#111" stroke="#111" stroke-width="0.1"><tspan font-weight="bold" font-style="italic">P</tspan> <tspan font-size="10.6" dy="0.3">&lt;</tspan><tspan dy="-0.3">.001</tspan></text>
<text x="119.50" y="476.50" font-size="9" text-anchor="start" font-weight="normal" font-style="normal" fill="#d21c46" stroke="#d21c46" stroke-width="0.1" style="stroke-width:0">Median PFS: 14.1 months</text>
<text x="98.00" y="562.70" font-size="9" text-anchor="start" font-weight="normal" font-style="normal" fill="#2e6d9e" stroke="#2e6d9e" stroke-width="0.1" style="stroke-width:0">Median PFS: 2.2 months</text>
<polyline points="90.80,453.90 96.90,453.90 96.90,455.00 98.50,455.00 98.50,457.30 100.00,457.30 100.00,460.40 101.50,460.40 101.50,465.00 103.10,465.00 103.10,470.40 104.60,470.40 104.60,474.50 106.20,474.50 106.20,478.10 116.20,478.10 116.20,481.90 116.90,481.90 116.90,485.00 120.80,485.00 120.80,490.40 133.10,490.40 133.10,491.20 134.60,491.20 134.60,495.80 140.80,495.80 140.80,498.10 143.10,498.10 143.10,500.40 145.40,500.40 145.40,501.90 147.70,501.90 147.70,504.20 163.10,504.20 163.10,506.50 171.50,506.50 171.50,509.60 173.10,509.60 173.10,511.20 173.80,511.20 173.80,515.00 209.20,515.00 209.20,562.70" fill="none" stroke="#d8123c" stroke-width="1.85" stroke-linejoin="miter" stroke-linecap="butt"/>
<line x1="90.80" y1="451.70" x2="90.80" y2="456.10" stroke="#d8123c" stroke-width="1.1"/>
<line x1="129.20" y1="488.20" x2="129.20" y2="492.60" stroke="#d8123c" stroke-width="1.1"/>
<line x1="166.90" y1="504.30" x2="166.90" y2="508.70" stroke="#d8123c" stroke-width="1.1"/>
<line x1="169.20" y1="504.30" x2="169.20" y2="508.70" stroke="#d8123c" stroke-width="1.1"/>
<line x1="170.80" y1="504.30" x2="170.80" y2="508.70" stroke="#d8123c" stroke-width="1.1"/>
<line x1="175.40" y1="512.80" x2="175.40" y2="517.20" stroke="#d8123c" stroke-width="1.1"/>
<line x1="177.70" y1="512.80" x2="177.70" y2="517.20" stroke="#d8123c" stroke-width="1.1"/>
<line x1="180.00" y1="512.80" x2="180.00" y2="517.20" stroke="#d8123c" stroke-width="1.1"/>
<line x1="194.60" y1="512.80" x2="194.60" y2="517.20" stroke="#d8123c" stroke-width="1.1"/>
<line x1="197.70" y1="512.80" x2="197.70" y2="517.20" stroke="#d8123c" stroke-width="1.1"/>
<line x1="200.80" y1="512.80" x2="200.80" y2="517.20" stroke="#d8123c" stroke-width="1.1"/>
<line x1="204.60" y1="512.80" x2="204.60" y2="517.20" stroke="#d8123c" stroke-width="1.1"/>
<line x1="208.50" y1="512.80" x2="208.50" y2="517.20" stroke="#d8123c" stroke-width="1.1"/>
<polyline points="90.80,453.90 95.40,453.90 95.40,461.20 98.50,461.20 98.50,468.10 100.80,468.10 100.80,475.80 101.30,475.80 101.30,483.00 101.80,483.00 101.80,490.40 103.10,490.40 103.10,497.00 103.40,497.00 103.40,504.00 103.80,504.00 103.80,511.20 105.40,511.20 105.40,519.60 107.70,519.60 107.70,528.10 108.50,528.10 108.50,534.50 110.00,534.50 110.00,541.20 111.50,541.20 111.50,548.10 120.80,548.10 120.80,555.00 130.80,555.00 130.80,562.70" fill="none" stroke="#1a5e90" stroke-width="1.85" stroke-linejoin="miter" stroke-linecap="butt"/>
<text x="68.00" y="608.00" font-size="8.8" text-anchor="start" font-weight="normal" font-style="normal" fill="#111" stroke="#111" stroke-width="0.1" >No. at risk</text>
<rect x="68.00" y="615.20" width="12.5" height="3.5" fill="#d8123c"/>
<rect x="68.00" y="625.40" width="12.5" height="3.5" fill="#1a5e90"/>
<text x="64.00" y="620.40" font-size="9.2" text-anchor="end" fill="#111" stroke="#111" stroke-width="0.1"><tspan font-size="12" dy="1.1">&lt;</tspan><tspan dy="-1.1">1900 hGE/mL</tspan></text>
<text x="64.00" y="630.60" font-size="9.2" text-anchor="end" fill="#111" stroke="#111" stroke-width="0.1"><tspan font-size="12" dy="1.1">&gt;</tspan><tspan dy="-1.1">1900 hGE/mL</tspan></text>
<text x="91.60" y="620.40" font-size="9.2" text-anchor="middle" font-weight="normal" font-style="normal" fill="#111" stroke="#111" stroke-width="0.1" >52</text>
<text x="91.60" y="630.60" font-size="9.2" text-anchor="middle" font-weight="normal" font-style="normal" fill="#111" stroke="#111" stroke-width="0.1" >15</text>
<text x="119.94" y="620.40" font-size="9.2" text-anchor="middle" font-weight="normal" font-style="normal" fill="#111" stroke="#111" stroke-width="0.1" >32</text>
<text x="119.94" y="630.60" font-size="9.2" text-anchor="middle" font-weight="normal" font-style="normal" fill="#111" stroke="#111" stroke-width="0.1" >2</text>
<text x="148.28" y="620.40" font-size="9.2" text-anchor="middle" font-weight="normal" font-style="normal" fill="#111" stroke="#111" stroke-width="0.1" >20</text>
<text x="148.28" y="630.60" font-size="9.2" text-anchor="middle" font-weight="normal" font-style="normal" fill="#111" stroke="#111" stroke-width="0.1" >&#8211;</text>
<text x="176.62" y="620.40" font-size="9.2" text-anchor="middle" font-weight="normal" font-style="normal" fill="#111" stroke="#111" stroke-width="0.1" >12</text>
<text x="176.62" y="630.60" font-size="9.2" text-anchor="middle" font-weight="normal" font-style="normal" fill="#111" stroke="#111" stroke-width="0.1" >&#8211;</text>
<text x="204.96" y="620.40" font-size="9.2" text-anchor="middle" font-weight="normal" font-style="normal" fill="#111" stroke="#111" stroke-width="0.1" >4</text>
<text x="204.96" y="630.60" font-size="9.2" text-anchor="middle" font-weight="normal" font-style="normal" fill="#111" stroke="#111" stroke-width="0.1" >&#8211;</text>
<text x="233.30" y="620.40" font-size="9.2" text-anchor="middle" font-weight="normal" font-style="normal" fill="#111" stroke="#111" stroke-width="0.1" >&#8211;</text>
<text x="233.30" y="630.60" font-size="9.2" text-anchor="middle" font-weight="normal" font-style="normal" fill="#111" stroke="#111" stroke-width="0.1" >&#8211;</text>
<text x="287.70" y="447.30" font-size="16.4" text-anchor="start" font-weight="bold" font-style="normal" fill="#000" stroke="#000" stroke-width="0.1" >F</text>
<text x="443.30" y="446.50" font-size="9.75" text-anchor="middle" font-weight="bold" font-style="normal" fill="#000" stroke="#000" stroke-width="0.1" >FL</text>
<rect x="366.80" y="455.30" width="152.30" height="115.00" fill="none" stroke="#1a1a1a" stroke-width="1.7"/>
<line x1="362.80" y1="566.00" x2="366.80" y2="566.00" stroke="#1a1a1a" stroke-width="1.2"/>
<text x="359.00" y="569.10" font-size="9.6" text-anchor="end" font-weight="normal" font-style="normal" fill="#1a1a1a" stroke="#1a1a1a" stroke-width="0.1" >0</text>
<line x1="362.80" y1="544.76" x2="366.80" y2="544.76" stroke="#1a1a1a" stroke-width="1.2"/>
<text x="359.00" y="547.86" font-size="9.6" text-anchor="end" font-weight="normal" font-style="normal" fill="#1a1a1a" stroke="#1a1a1a" stroke-width="0.1" >20</text>
<line x1="362.80" y1="523.52" x2="366.80" y2="523.52" stroke="#1a1a1a" stroke-width="1.2"/>
<text x="359.00" y="526.62" font-size="9.6" text-anchor="end" font-weight="normal" font-style="normal" fill="#1a1a1a" stroke="#1a1a1a" stroke-width="0.1" >40</text>
<line x1="362.80" y1="502.28" x2="366.80" y2="502.28" stroke="#1a1a1a" stroke-width="1.2"/>
<text x="359.00" y="505.38" font-size="9.6" text-anchor="end" font-weight="normal" font-style="normal" fill="#1a1a1a" stroke="#1a1a1a" stroke-width="0.1" >60</text>
<line x1="362.80" y1="481.04" x2="366.80" y2="481.04" stroke="#1a1a1a" stroke-width="1.2"/>
<text x="359.00" y="484.14" font-size="9.6" text-anchor="end" font-weight="normal" font-style="normal" fill="#1a1a1a" stroke="#1a1a1a" stroke-width="0.1" >80</text>
<line x1="362.80" y1="459.80" x2="366.80" y2="459.80" stroke="#1a1a1a" stroke-width="1.2"/>
<text x="359.00" y="462.90" font-size="9.6" text-anchor="end" font-weight="normal" font-style="normal" fill="#1a1a1a" stroke="#1a1a1a" stroke-width="0.1" >100</text>
<line x1="372.50" y1="570.30" x2="372.50" y2="574.30" stroke="#1a1a1a" stroke-width="1.2"/>
<text x="372.50" y="585.60" font-size="9.6" text-anchor="middle" font-weight="normal" font-style="normal" fill="#1a1a1a" stroke="#1a1a1a" stroke-width="0.1" >0</text>
<line x1="400.84" y1="570.30" x2="400.84" y2="574.30" stroke="#1a1a1a" stroke-width="1.2"/>
<text x="400.84" y="585.60" font-size="9.6" text-anchor="middle" font-weight="normal" font-style="normal" fill="#1a1a1a" stroke="#1a1a1a" stroke-width="0.1" >5</text>
<line x1="429.18" y1="570.30" x2="429.18" y2="574.30" stroke="#1a1a1a" stroke-width="1.2"/>
<text x="429.18" y="585.60" font-size="9.6" text-anchor="middle" font-weight="normal" font-style="normal" fill="#1a1a1a" stroke="#1a1a1a" stroke-width="0.1" >10</text>
<line x1="457.52" y1="570.30" x2="457.52" y2="574.30" stroke="#1a1a1a" stroke-width="1.2"/>
<text x="457.52" y="585.60" font-size="9.6" text-anchor="middle" font-weight="normal" font-style="normal" fill="#1a1a1a" stroke="#1a1a1a" stroke-width="0.1" >15</text>
<line x1="485.86" y1="570.30" x2="485.86" y2="574.30" stroke="#1a1a1a" stroke-width="1.2"/>
<text x="485.86" y="585.60" font-size="9.6" text-anchor="middle" font-weight="normal" font-style="normal" fill="#1a1a1a" stroke="#1a1a1a" stroke-width="0.1" >20</text>
<line x1="514.20" y1="570.30" x2="514.20" y2="574.30" stroke="#1a1a1a" stroke-width="1.2"/>
<text x="514.20" y="585.60" font-size="9.6" text-anchor="middle" font-weight="normal" font-style="normal" fill="#1a1a1a" stroke="#1a1a1a" stroke-width="0.1" >25</text>
<text transform="translate(334.90,513.50) rotate(-90) scale(0.73,1)" x="0" y="0" font-size="11.5" text-anchor="middle" fill="#111" stroke="#111" stroke-width="0.3">PFS (%)</text>
<text transform="translate(443.10,601.90) scale(0.70,1)" x="0" y="0" font-size="11.5" text-anchor="middle" fill="#111" stroke="#111" stroke-width="0.3">Months</text>
<text x="513.50" y="466.40" font-size="9.6" text-anchor="end" fill="#111" stroke="#111" stroke-width="0.1"><tspan font-weight="bold" font-style="italic">P</tspan> <tspan font-size="11.8" dy="1.1" dx="-0.8">=</tspan><tspan dy="-1.1" dx="1.5">.001</tspan></text>
<text x="409.00" y="484.30" font-size="9" text-anchor="start" font-weight="normal" font-style="normal" fill="#d21c46" stroke="#d21c46" stroke-width="0.1" style="stroke-width:0">Median PFS: 12.7 months</text>
<text x="393.50" y="568.70" font-size="9" text-anchor="start" font-weight="normal" font-style="normal" fill="#2e6d9e" stroke="#2e6d9e" stroke-width="0.1" style="stroke-width:0">Median PFS: 2.0 months</text>
<polyline points="371.50,459.80 383.70,459.80 383.70,471.50 396.60,471.50 396.60,476.70 401.00,476.70 401.00,489.60 415.00,489.60 415.00,496.50 423.10,496.50 423.10,503.50 427.70,503.50 427.70,511.50 443.80,511.50 443.80,519.60 451.90,519.60 451.90,527.70 454.20,527.70 454.20,538.10 490.00,538.10" fill="none" stroke="#d8123c" stroke-width="1.85" stroke-linejoin="miter" stroke-linecap="butt"/>
<line x1="390.60" y1="469.30" x2="390.60" y2="473.70" stroke="#d8123c" stroke-width="1.1"/>
<line x1="411.30" y1="487.40" x2="411.30" y2="491.80" stroke="#d8123c" stroke-width="1.1"/>
<line x1="458.80" y1="535.90" x2="458.80" y2="540.30" stroke="#d8123c" stroke-width="1.1"/>
<line x1="481.90" y1="535.90" x2="481.90" y2="540.30" stroke="#d8123c" stroke-width="1.1"/>
<line x1="485.80" y1="535.90" x2="485.80" y2="540.30" stroke="#d8123c" stroke-width="1.1"/>
<line x1="490.00" y1="535.90" x2="490.00" y2="540.30" stroke="#d8123c" stroke-width="1.1"/>
<polyline points="371.50,459.80 382.80,459.80 382.80,486.20 383.40,486.20 383.40,513.00 384.50,513.00 384.50,539.40 389.20,539.40 389.20,566.00" fill="none" stroke="#1a5e90" stroke-width="1.85" stroke-linejoin="miter" stroke-linecap="butt"/>
<line x1="380.20" y1="457.60" x2="380.20" y2="462.00" stroke="#1a5e90" stroke-width="1.1"/>
<text x="351.00" y="610.50" font-size="8.8" text-anchor="start" font-weight="normal" font-style="normal" fill="#111" stroke="#111" stroke-width="0.1" >No. at risk</text>
<rect x="351.00" y="618.40" width="12.5" height="3.5" fill="#d8123c"/>
<rect x="351.00" y="629.20" width="12.5" height="3.5" fill="#1a5e90"/>
<text x="347.00" y="623.60" font-size="9.2" text-anchor="end" fill="#111" stroke="#111" stroke-width="0.1"><tspan font-size="12" dy="1.1">&lt;</tspan><tspan dy="-1.1">1900 hGE/mL</tspan></text>
<text x="347.00" y="634.40" font-size="9.2" text-anchor="end" fill="#111" stroke="#111" stroke-width="0.1"><tspan font-size="12" dy="1.1">&gt;</tspan><tspan dy="-1.1">1900 hGE/mL</tspan></text>
<text x="372.50" y="623.60" font-size="9.2" text-anchor="middle" font-weight="normal" font-style="normal" fill="#111" stroke="#111" stroke-width="0.1" >20</text>
<text x="372.50" y="634.40" font-size="9.2" text-anchor="middle" font-weight="normal" font-style="normal" fill="#111" stroke="#111" stroke-width="0.1" >4</text>
<text x="400.84" y="623.60" font-size="9.2" text-anchor="middle" font-weight="normal" font-style="normal" fill="#111" stroke="#111" stroke-width="0.1" >14</text>
<text x="400.84" y="634.40" font-size="9.2" text-anchor="middle" font-weight="normal" font-style="normal" fill="#111" stroke="#111" stroke-width="0.1" >&#8211;</text>
<text x="429.18" y="623.60" font-size="9.2" text-anchor="middle" font-weight="normal" font-style="normal" fill="#111" stroke="#111" stroke-width="0.1" >7</text>
<text x="429.18" y="634.40" font-size="9.2" text-anchor="middle" font-weight="normal" font-style="normal" fill="#111" stroke="#111" stroke-width="0.1" >&#8211;</text>
<text x="457.52" y="623.60" font-size="9.2" text-anchor="middle" font-weight="normal" font-style="normal" fill="#111" stroke="#111" stroke-width="0.1" >3</text>
<text x="457.52" y="634.40" font-size="9.2" text-anchor="middle" font-weight="normal" font-style="normal" fill="#111" stroke="#111" stroke-width="0.1" >&#8211;</text>
<text x="485.86" y="623.60" font-size="9.2" text-anchor="middle" font-weight="normal" font-style="normal" fill="#111" stroke="#111" stroke-width="0.1" >1</text>
<text x="485.86" y="634.40" font-size="9.2" text-anchor="middle" font-weight="normal" font-style="normal" fill="#111" stroke="#111" stroke-width="0.1" >&#8211;</text>
<text x="514.20" y="623.60" font-size="9.2" text-anchor="middle" font-weight="normal" font-style="normal" fill="#111" stroke="#111" stroke-width="0.1" >&#8211;</text>
<text x="514.20" y="634.40" font-size="9.2" text-anchor="middle" font-weight="normal" font-style="normal" fill="#111" stroke="#111" stroke-width="0.1" >&#8211;</text>
<text x="2.50" y="657.20" font-size="16.4" text-anchor="start" font-weight="bold" font-style="normal" fill="#000" stroke="#000" stroke-width="0.1" >G</text>
<text x="162.50" y="656.20" font-size="9.75" text-anchor="middle" font-weight="bold" font-style="normal" fill="#000" stroke="#000" stroke-width="0.1" >DLBCL</text>
<rect x="85.80" y="664.50" width="151.90" height="117.00" fill="none" stroke="#1a1a1a" stroke-width="1.7"/>
<line x1="81.80" y1="777.20" x2="85.80" y2="777.20" stroke="#1a1a1a" stroke-width="1.2"/>
<text x="78.00" y="780.30" font-size="9.6" text-anchor="end" font-weight="normal" font-style="normal" fill="#1a1a1a" stroke="#1a1a1a" stroke-width="0.1" >0</text>
<line x1="81.80" y1="755.46" x2="85.80" y2="755.46" stroke="#1a1a1a" stroke-width="1.2"/>
<text x="78.00" y="758.56" font-size="9.6" text-anchor="end" font-weight="normal" font-style="normal" fill="#1a1a1a" stroke="#1a1a1a" stroke-width="0.1" >20</text>
<line x1="81.80" y1="733.72" x2="85.80" y2="733.72" stroke="#1a1a1a" stroke-width="1.2"/>
<text x="78.00" y="736.82" font-size="9.6" text-anchor="end" font-weight="normal" font-style="normal" fill="#1a1a1a" stroke="#1a1a1a" stroke-width="0.1" >40</text>
<line x1="81.80" y1="711.98" x2="85.80" y2="711.98" stroke="#1a1a1a" stroke-width="1.2"/>
<text x="78.00" y="715.08" font-size="9.6" text-anchor="end" font-weight="normal" font-style="normal" fill="#1a1a1a" stroke="#1a1a1a" stroke-width="0.1" >60</text>
<line x1="81.80" y1="690.24" x2="85.80" y2="690.24" stroke="#1a1a1a" stroke-width="1.2"/>
<text x="78.00" y="693.34" font-size="9.6" text-anchor="end" font-weight="normal" font-style="normal" fill="#1a1a1a" stroke="#1a1a1a" stroke-width="0.1" >80</text>
<line x1="81.80" y1="668.50" x2="85.80" y2="668.50" stroke="#1a1a1a" stroke-width="1.2"/>
<text x="78.00" y="671.60" font-size="9.6" text-anchor="end" font-weight="normal" font-style="normal" fill="#1a1a1a" stroke="#1a1a1a" stroke-width="0.1" >100</text>
<line x1="91.50" y1="781.50" x2="91.50" y2="785.50" stroke="#1a1a1a" stroke-width="1.2"/>
<text x="91.50" y="796.80" font-size="9.6" text-anchor="middle" font-weight="normal" font-style="normal" fill="#1a1a1a" stroke="#1a1a1a" stroke-width="0.1" >0</text>
<line x1="119.84" y1="781.50" x2="119.84" y2="785.50" stroke="#1a1a1a" stroke-width="1.2"/>
<text x="119.84" y="796.80" font-size="9.6" text-anchor="middle" font-weight="normal" font-style="normal" fill="#1a1a1a" stroke="#1a1a1a" stroke-width="0.1" >5</text>
<line x1="148.18" y1="781.50" x2="148.18" y2="785.50" stroke="#1a1a1a" stroke-width="1.2"/>
<text x="148.18" y="796.80" font-size="9.6" text-anchor="middle" font-weight="normal" font-style="normal" fill="#1a1a1a" stroke="#1a1a1a" stroke-width="0.1" >10</text>
<line x1="176.52" y1="781.50" x2="176.52" y2="785.50" stroke="#1a1a1a" stroke-width="1.2"/>
<text x="176.52" y="796.80" font-size="9.6" text-anchor="middle" font-weight="normal" font-style="normal" fill="#1a1a1a" stroke="#1a1a1a" stroke-width="0.1" >15</text>
<line x1="204.86" y1="781.50" x2="204.86" y2="785.50" stroke="#1a1a1a" stroke-width="1.2"/>
<text x="204.86" y="796.80" font-size="9.6" text-anchor="middle" font-weight="normal" font-style="normal" fill="#1a1a1a" stroke="#1a1a1a" stroke-width="0.1" >20</text>
<line x1="233.20" y1="781.50" x2="233.20" y2="785.50" stroke="#1a1a1a" stroke-width="1.2"/>
<text x="233.20" y="796.80" font-size="9.6" text-anchor="middle" font-weight="normal" font-style="normal" fill="#1a1a1a" stroke="#1a1a1a" stroke-width="0.1" >25</text>
<text transform="translate(54.70,723.60) rotate(-90) scale(0.73,1)" x="0" y="0" font-size="11.5" text-anchor="middle" fill="#111" stroke="#111" stroke-width="0.3">PFS (%)</text>
<text transform="translate(162.40,813.10) scale(0.70,1)" x="0" y="0" font-size="11.5" text-anchor="middle" fill="#111" stroke="#111" stroke-width="0.3">Months</text>
<text x="232.30" y="674.60" font-size="9.6" text-anchor="end" fill="#111" stroke="#111" stroke-width="0.1"><tspan font-weight="bold" font-style="italic">P</tspan> <tspan font-size="11.8" dy="1.1" dx="-0.8">=</tspan><tspan dy="-1.1" dx="1.5">.004</tspan></text>
<text x="116.70" y="691.50" font-size="9" text-anchor="start" font-weight="normal" font-style="normal" fill="#d21c46" stroke="#d21c46" stroke-width="0.1" style="stroke-width:0">Median PFS: 20.8 months</text>
<text x="98.00" y="776.90" font-size="9" text-anchor="start" font-weight="normal" font-style="normal" fill="#2e6d9e" stroke="#2e6d9e" stroke-width="0.1" style="stroke-width:0">Median PFS: 2.2 months</text>
<polyline points="91.50,668.50 98.50,668.50 98.50,671.50 99.20,671.50 99.20,673.80 100.00,673.80 100.00,676.20 100.80,676.20 100.80,679.20 101.50,679.20 101.50,683.10 102.30,683.10 102.30,688.50 103.10,688.50 103.10,690.80 104.60,690.80 104.60,694.60 105.40,694.60 105.40,699.20 116.90,699.20 116.90,704.60 117.70,704.60 117.70,710.00 134.60,710.00 134.60,716.20 209.20,716.20 209.20,777.70" fill="none" stroke="#d8123c" stroke-width="1.85" stroke-linejoin="miter" stroke-linecap="butt"/>
<line x1="116.90" y1="697.00" x2="116.90" y2="701.40" stroke="#d8123c" stroke-width="1.1"/>
<line x1="166.90" y1="714.00" x2="166.90" y2="718.40" stroke="#d8123c" stroke-width="1.1"/>
<line x1="175.40" y1="714.00" x2="175.40" y2="718.40" stroke="#d8123c" stroke-width="1.1"/>
<line x1="180.00" y1="714.00" x2="180.00" y2="718.40" stroke="#d8123c" stroke-width="1.1"/>
<line x1="180.80" y1="714.00" x2="180.80" y2="718.40" stroke="#d8123c" stroke-width="1.1"/>
<line x1="194.60" y1="714.00" x2="194.60" y2="718.40" stroke="#d8123c" stroke-width="1.1"/>
<line x1="197.70" y1="714.00" x2="197.70" y2="718.40" stroke="#d8123c" stroke-width="1.1"/>
<line x1="200.00" y1="714.00" x2="200.00" y2="718.40" stroke="#d8123c" stroke-width="1.1"/>
<line x1="205.40" y1="714.00" x2="205.40" y2="718.40" stroke="#d8123c" stroke-width="1.1"/>
<polyline points="91.50,668.50 95.40,668.50 95.40,683.80 101.50,683.80 101.50,699.20 103.10,699.20 103.10,715.40 103.80,715.40 103.80,730.80 105.40,730.80 105.40,745.40 109.20,745.40 109.20,761.50 130.50,761.50 130.50,777.20" fill="none" stroke="#1a5e90" stroke-width="1.85" stroke-linejoin="miter" stroke-linecap="butt"/>
<text x="68.00" y="823.00" font-size="8.8" text-anchor="start" font-weight="normal" font-style="normal" fill="#111" stroke="#111" stroke-width="0.1" >No. at risk</text>
<rect x="68.00" y="830.30" width="12.5" height="3.5" fill="#d8123c"/>
<rect x="68.00" y="839.30" width="12.5" height="3.5" fill="#1a5e90"/>
<text x="64.00" y="835.50" font-size="9.2" text-anchor="end" fill="#111" stroke="#111" stroke-width="0.1"><tspan font-size="12" dy="1.1">&lt;</tspan><tspan dy="-1.1">1900 hGE/mL</tspan></text>
<text x="64.00" y="844.50" font-size="9.2" text-anchor="end" fill="#111" stroke="#111" stroke-width="0.1"><tspan font-size="12" dy="1.1">&gt;</tspan><tspan dy="-1.1">1900 hGE/mL</tspan></text>
<text x="91.50" y="835.50" font-size="9.2" text-anchor="middle" font-weight="normal" font-style="normal" fill="#111" stroke="#111" stroke-width="0.1" >21</text>
<text x="91.50" y="844.50" font-size="9.2" text-anchor="middle" font-weight="normal" font-style="normal" fill="#111" stroke="#111" stroke-width="0.1" >7</text>
<text x="119.84" y="835.50" font-size="9.2" text-anchor="middle" font-weight="normal" font-style="normal" fill="#111" stroke="#111" stroke-width="0.1" >12</text>
<text x="119.84" y="844.50" font-size="9.2" text-anchor="middle" font-weight="normal" font-style="normal" fill="#111" stroke="#111" stroke-width="0.1" >1</text>
<text x="148.18" y="835.50" font-size="9.2" text-anchor="middle" font-weight="normal" font-style="normal" fill="#111" stroke="#111" stroke-width="0.1" >11</text>
<text x="148.18" y="844.50" font-size="9.2" text-anchor="middle" font-weight="normal" font-style="normal" fill="#111" stroke="#111" stroke-width="0.1" >&#8211;</text>
<text x="176.52" y="835.50" font-size="9.2" text-anchor="middle" font-weight="normal" font-style="normal" fill="#111" stroke="#111" stroke-width="0.1" >9</text>
<text x="176.52" y="844.50" font-size="9.2" text-anchor="middle" font-weight="normal" font-style="normal" fill="#111" stroke="#111" stroke-width="0.1" >&#8211;</text>
<text x="204.86" y="835.50" font-size="9.2" text-anchor="middle" font-weight="normal" font-style="normal" fill="#111" stroke="#111" stroke-width="0.1" >3</text>
<text x="204.86" y="844.50" font-size="9.2" text-anchor="middle" font-weight="normal" font-style="normal" fill="#111" stroke="#111" stroke-width="0.1" >&#8211;</text>
<text x="233.20" y="835.50" font-size="9.2" text-anchor="middle" font-weight="normal" font-style="normal" fill="#111" stroke="#111" stroke-width="0.1" >&#8211;</text>
<text x="233.20" y="844.50" font-size="9.2" text-anchor="middle" font-weight="normal" font-style="normal" fill="#111" stroke="#111" stroke-width="0.1" >&#8211;</text>
<text x="287.70" y="657.50" font-size="16.4" text-anchor="start" font-weight="bold" font-style="normal" fill="#000" stroke="#000" stroke-width="0.1" >H</text>
<text x="444.40" y="655.80" font-size="9.75" text-anchor="middle" font-weight="bold" font-style="normal" fill="#000" stroke="#000" stroke-width="0.1" >RS</text>
<rect x="367.70" y="664.40" width="150.50" height="116.10" fill="none" stroke="#1a1a1a" stroke-width="1.7"/>
<line x1="363.70" y1="776.30" x2="367.70" y2="776.30" stroke="#1a1a1a" stroke-width="1.2"/>
<text x="359.90" y="779.40" font-size="9.6" text-anchor="end" font-weight="normal" font-style="normal" fill="#1a1a1a" stroke="#1a1a1a" stroke-width="0.1" >0</text>
<line x1="363.70" y1="754.78" x2="367.70" y2="754.78" stroke="#1a1a1a" stroke-width="1.2"/>
<text x="359.90" y="757.88" font-size="9.6" text-anchor="end" font-weight="normal" font-style="normal" fill="#1a1a1a" stroke="#1a1a1a" stroke-width="0.1" >20</text>
<line x1="363.70" y1="733.26" x2="367.70" y2="733.26" stroke="#1a1a1a" stroke-width="1.2"/>
<text x="359.90" y="736.36" font-size="9.6" text-anchor="end" font-weight="normal" font-style="normal" fill="#1a1a1a" stroke="#1a1a1a" stroke-width="0.1" >40</text>
<line x1="363.70" y1="711.74" x2="367.70" y2="711.74" stroke="#1a1a1a" stroke-width="1.2"/>
<text x="359.90" y="714.84" font-size="9.6" text-anchor="end" font-weight="normal" font-style="normal" fill="#1a1a1a" stroke="#1a1a1a" stroke-width="0.1" >60</text>
<line x1="363.70" y1="690.22" x2="367.70" y2="690.22" stroke="#1a1a1a" stroke-width="1.2"/>
<text x="359.90" y="693.32" font-size="9.6" text-anchor="end" font-weight="normal" font-style="normal" fill="#1a1a1a" stroke="#1a1a1a" stroke-width="0.1" >80</text>
<line x1="363.70" y1="668.70" x2="367.70" y2="668.70" stroke="#1a1a1a" stroke-width="1.2"/>
<text x="359.90" y="671.80" font-size="9.6" text-anchor="end" font-weight="normal" font-style="normal" fill="#1a1a1a" stroke="#1a1a1a" stroke-width="0.1" >100</text>
<line x1="373.30" y1="780.50" x2="373.30" y2="784.50" stroke="#1a1a1a" stroke-width="1.2"/>
<text x="373.30" y="795.10" font-size="9.6" text-anchor="middle" font-weight="normal" font-style="normal" fill="#1a1a1a" stroke="#1a1a1a" stroke-width="0.1" >0</text>
<line x1="401.34" y1="780.50" x2="401.34" y2="784.50" stroke="#1a1a1a" stroke-width="1.2"/>
<text x="401.34" y="795.10" font-size="9.6" text-anchor="middle" font-weight="normal" font-style="normal" fill="#1a1a1a" stroke="#1a1a1a" stroke-width="0.1" >5</text>
<line x1="429.38" y1="780.50" x2="429.38" y2="784.50" stroke="#1a1a1a" stroke-width="1.2"/>
<text x="429.38" y="795.10" font-size="9.6" text-anchor="middle" font-weight="normal" font-style="normal" fill="#1a1a1a" stroke="#1a1a1a" stroke-width="0.1" >10</text>
<line x1="457.42" y1="780.50" x2="457.42" y2="784.50" stroke="#1a1a1a" stroke-width="1.2"/>
<text x="457.42" y="795.10" font-size="9.6" text-anchor="middle" font-weight="normal" font-style="normal" fill="#1a1a1a" stroke="#1a1a1a" stroke-width="0.1" >15</text>
<line x1="485.46" y1="780.50" x2="485.46" y2="784.50" stroke="#1a1a1a" stroke-width="1.2"/>
<text x="485.46" y="795.10" font-size="9.6" text-anchor="middle" font-weight="normal" font-style="normal" fill="#1a1a1a" stroke="#1a1a1a" stroke-width="0.1" >20</text>
<line x1="513.50" y1="780.50" x2="513.50" y2="784.50" stroke="#1a1a1a" stroke-width="1.2"/>
<text x="513.50" y="795.10" font-size="9.6" text-anchor="middle" font-weight="normal" font-style="normal" fill="#1a1a1a" stroke="#1a1a1a" stroke-width="0.1" >25</text>
<text transform="translate(336.50,722.50) rotate(-90) scale(0.73,1)" x="0" y="0" font-size="11.5" text-anchor="middle" fill="#111" stroke="#111" stroke-width="0.3">PFS (%)</text>
<text transform="translate(443.60,812.20) scale(0.70,1)" x="0" y="0" font-size="11.5" text-anchor="middle" fill="#111" stroke="#111" stroke-width="0.3">Months</text>
<text x="514.20" y="674.90" font-size="9.6" text-anchor="end" fill="#111" stroke="#111" stroke-width="0.1"><tspan font-weight="bold" font-style="italic">P</tspan> <tspan font-size="11.8" dy="1.1" dx="-0.8">=</tspan><tspan dy="-1.1" dx="1.5">.07</tspan></text>
<text x="406.70" y="691.10" font-size="9" text-anchor="start" font-weight="normal" font-style="normal" fill="#d21c46" stroke="#d21c46" stroke-width="0.1" style="stroke-width:0">Median PFS: 8.8 months</text>
<text x="406.30" y="776.90" font-size="9" text-anchor="start" font-weight="normal" font-style="normal" fill="#2e6d9e" stroke="#2e6d9e" stroke-width="0.1" style="stroke-width:0">Median PFS: 3.3 months</text>
<polyline points="373.30,668.70 379.80,668.70 379.80,678.60 385.40,678.60 385.40,689.50 387.10,689.50 387.10,699.60 423.10,699.60 423.10,725.00 451.90,725.00" fill="none" stroke="#d8123c" stroke-width="1.85" stroke-linejoin="miter" stroke-linecap="butt"/>
<line x1="384.50" y1="676.40" x2="384.50" y2="680.80" stroke="#d8123c" stroke-width="1.1"/>
<line x1="410.00" y1="697.40" x2="410.00" y2="701.80" stroke="#d8123c" stroke-width="1.1"/>
<line x1="438.10" y1="722.80" x2="438.10" y2="727.20" stroke="#d8123c" stroke-width="1.1"/>
<line x1="451.90" y1="722.80" x2="451.90" y2="727.20" stroke="#d8123c" stroke-width="1.1"/>
<polyline points="373.30,668.70 381.10,668.70 381.10,696.40 390.60,696.40 390.60,722.70 393.20,722.70 393.20,749.50 402.50,749.50 402.50,776.30" fill="none" stroke="#1a5e90" stroke-width="1.85" stroke-linejoin="miter" stroke-linecap="butt"/>
<text x="350.00" y="821.20" font-size="8.8" text-anchor="start" font-weight="normal" font-style="normal" fill="#111" stroke="#111" stroke-width="0.1" >No. at risk</text>
<rect x="350.50" y="828.50" width="12.5" height="3.5" fill="#d8123c"/>
<rect x="350.50" y="839.00" width="12.5" height="3.5" fill="#1a5e90"/>
<text x="346.50" y="833.70" font-size="9.2" text-anchor="end" fill="#111" stroke="#111" stroke-width="0.1"><tspan font-size="12" dy="1.1">&lt;</tspan><tspan dy="-1.1">1900 hGE/mL</tspan></text>
<text x="346.50" y="844.20" font-size="9.2" text-anchor="end" fill="#111" stroke="#111" stroke-width="0.1"><tspan font-size="12" dy="1.1">&gt;</tspan><tspan dy="-1.1">1900 hGE/mL</tspan></text>
<text x="373.30" y="833.70" font-size="9.2" text-anchor="middle" font-weight="normal" font-style="normal" fill="#111" stroke="#111" stroke-width="0.1" >11</text>
<text x="373.30" y="844.20" font-size="9.2" text-anchor="middle" font-weight="normal" font-style="normal" fill="#111" stroke="#111" stroke-width="0.1" >4</text>
<text x="401.34" y="833.70" font-size="9.2" text-anchor="middle" font-weight="normal" font-style="normal" fill="#111" stroke="#111" stroke-width="0.1" >6</text>
<text x="401.34" y="844.20" font-size="9.2" text-anchor="middle" font-weight="normal" font-style="normal" fill="#111" stroke="#111" stroke-width="0.1" >1</text>
<text x="429.38" y="833.70" font-size="9.2" text-anchor="middle" font-weight="normal" font-style="normal" fill="#111" stroke="#111" stroke-width="0.1" >2</text>
<text x="429.38" y="844.20" font-size="9.2" text-anchor="middle" font-weight="normal" font-style="normal" fill="#111" stroke="#111" stroke-width="0.1" >&#8211;</text>
<text x="457.42" y="833.70" font-size="9.2" text-anchor="middle" font-weight="normal" font-style="normal" fill="#111" stroke="#111" stroke-width="0.1" >&#8211;</text>
<text x="457.42" y="844.20" font-size="9.2" text-anchor="middle" font-weight="normal" font-style="normal" fill="#111" stroke="#111" stroke-width="0.1" >&#8211;</text>
<text x="485.46" y="833.70" font-size="9.2" text-anchor="middle" font-weight="normal" font-style="normal" fill="#111" stroke="#111" stroke-width="0.1" >&#8211;</text>
<text x="485.46" y="844.20" font-size="9.2" text-anchor="middle" font-weight="normal" font-style="normal" fill="#111" stroke="#111" stroke-width="0.1" >&#8211;</text>
<text x="513.50" y="833.70" font-size="9.2" text-anchor="middle" font-weight="normal" font-style="normal" fill="#111" stroke="#111" stroke-width="0.1" >&#8211;</text>
<text x="513.50" y="844.20" font-size="9.2" text-anchor="middle" font-weight="normal" font-style="normal" fill="#111" stroke="#111" stroke-width="0.1" >&#8211;</text>
</svg>
</body></html>
